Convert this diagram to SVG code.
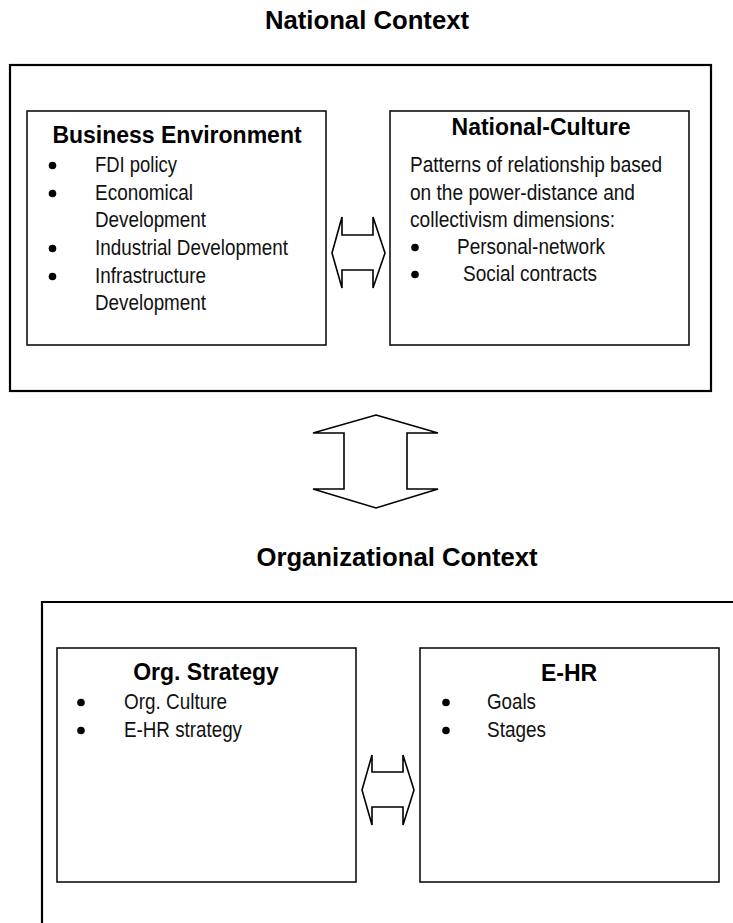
<svg xmlns="http://www.w3.org/2000/svg" width="733" height="923" viewBox="0 0 733 923">
  <style>
    .frame { fill: none; stroke: #000; stroke-width: 2.2; }
    .box { fill: #fff; stroke: #111; stroke-width: 1.6; }
    .arrow { fill: #fff; stroke: #000; stroke-width: 1.6; stroke-linejoin: miter; }
    .title { font-family: "Liberation Sans", Arial, sans-serif; font-weight: bold; font-size: 25.7px; fill: #000; text-anchor: middle; }
    .head { font-family: "Liberation Sans", Arial, sans-serif; font-weight: bold; font-size: 23px; fill: #000; text-anchor: middle; }
    .body { font-family: "Liberation Sans", Arial, sans-serif; font-size: 22px; fill: #111; }
    .dot { fill: #000; }
  </style>

  <!-- National context frame -->
  <g id="national-context">
    <text class="title" x="367" y="29">National Context</text>
    <rect class="frame" x="10" y="65" width="701" height="326"/>
  </g>

  <!-- Business environment -->
  <g id="business-environment">
    <rect class="box" x="27" y="111" width="299" height="234"/>
    <text class="head" x="177" y="143">Business Environment</text>
    <circle class="dot" cx="52.5" cy="165.5" r="3.8"/>
    <text class="body" x="95" y="172" textLength="82" lengthAdjust="spacingAndGlyphs">FDI policy</text>
    <circle class="dot" cx="52.5" cy="193.5" r="3.8"/>
    <text class="body" x="95" y="200" textLength="98" lengthAdjust="spacingAndGlyphs">Economical</text>
    <text class="body" x="95" y="227" textLength="111" lengthAdjust="spacingAndGlyphs">Development</text>
    <circle class="dot" cx="52.5" cy="248.5" r="3.8"/>
    <text class="body" x="95" y="255" textLength="193" lengthAdjust="spacingAndGlyphs">Industrial Development</text>
    <circle class="dot" cx="52.5" cy="276.5" r="3.8"/>
    <text class="body" x="95" y="283" textLength="111" lengthAdjust="spacingAndGlyphs">Infrastructure</text>
    <text class="body" x="95" y="310" textLength="111" lengthAdjust="spacingAndGlyphs">Development</text>
  </g>

  <!-- National culture -->
  <g id="national-culture">
    <rect class="box" x="390" y="111" width="299" height="234"/>
    <text class="head" x="541" y="135">National-Culture</text>
    <text class="body" x="410" y="172" textLength="252" lengthAdjust="spacingAndGlyphs">Patterns of relationship based</text>
    <text class="body" x="410" y="200" textLength="225" lengthAdjust="spacingAndGlyphs">on the power-distance and</text>
    <text class="body" x="410" y="227" textLength="205" lengthAdjust="spacingAndGlyphs">collectivism dimensions:</text>
    <circle class="dot" cx="415" cy="247.5" r="3.8"/>
    <text class="body" x="457" y="254" textLength="148" lengthAdjust="spacingAndGlyphs">Personal-network</text>
    <circle class="dot" cx="415" cy="274.5" r="3.8"/>
    <text class="body" x="463" y="281" textLength="134" lengthAdjust="spacingAndGlyphs">Social contracts</text>
  </g>

  <!-- Organizational context frame -->
  <g id="organizational-context">
    <text class="title" x="397" y="566">Organizational Context</text>
    <path class="frame" d="M740,602 H42 V930"/>
  </g>

  <!-- Org. strategy -->
  <g id="org-strategy">
    <rect class="box" x="57" y="648" width="299" height="234"/>
    <text class="head" x="206" y="680">Org. Strategy</text>
    <circle class="dot" cx="81" cy="702.5" r="3.8"/>
    <text class="body" x="124" y="709" textLength="103" lengthAdjust="spacingAndGlyphs">Org. Culture</text>
    <circle class="dot" cx="81" cy="730.5" r="3.8"/>
    <text class="body" x="124" y="737" textLength="118" lengthAdjust="spacingAndGlyphs">E-HR strategy</text>
  </g>

  <!-- E-HR -->
  <g id="e-hr">
    <rect class="box" x="420" y="648" width="299" height="234"/>
    <text class="head" x="569" y="681">E-HR</text>
    <circle class="dot" cx="446" cy="702.5" r="3.8"/>
    <text class="body" x="487" y="709" textLength="49" lengthAdjust="spacingAndGlyphs">Goals</text>
    <circle class="dot" cx="446" cy="730.5" r="3.8"/>
    <text class="body" x="487" y="737" textLength="59" lengthAdjust="spacingAndGlyphs">Stages</text>
  </g>

  <!-- Two-headed block arrows between the boxes -->
  <g id="connectors">
    <polygon class="arrow" points="332,253 342,217 342,235 373,235 373,217 385,253 373,288 373,270 342,270 342,288"/>
    <polygon class="arrow" points="376,415 438,433 407,433 407,489 438,489 376,508 313,489 344,489 344,433 313,433"/>
    <polygon class="arrow" points="362,790 372,755 372,772 403,772 403,755 414,790 403,825 403,807 372,807 372,825"/>
  </g>
</svg>
